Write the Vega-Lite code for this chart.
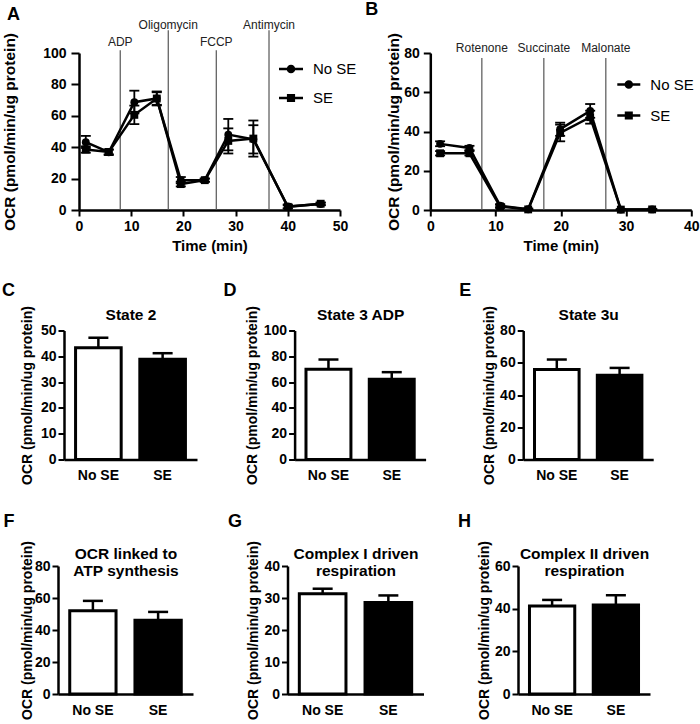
{
"$schema": "https://vega.github.io/schema/vega-lite/v6.json",
"background": "white",
"padding": {"left": 1, "top": 1, "right": 0, "bottom": 0},
"config": {
 "font": "Liberation Sans",
 "view": {"stroke": null},
 "axis": {"grid": false, "domainColor": "black", "domainWidth": 2.5, "tickColor": "black", "tickWidth": 2, "labelColor": "black", "labelFont": "Liberation Sans", "labelFontWeight": "bold", "labelFontSize": 14, "titleFont": "Liberation Sans", "titleFontWeight": "bold", "titleColor": "black", "labelFlush": false, "labelOverlap": false, "labelBound": false, "tickCount": 20},
 "title": {"font": "Liberation Sans", "fontWeight": "bold", "color": "black", "fontSize": 18, "anchor": "start", "frame": "bounds"}
},
"datasets": {
 "timeA": [
  {"time": 1.3, "group": "No SE", "ocr": 43.2, "lo": 39.5, "hi": 47.2},
  {"time": 5.7, "group": "No SE", "ocr": 36.8, "lo": 35.0, "hi": 38.5},
  {"time": 10.6, "group": "No SE", "ocr": 68.7, "lo": 61.5, "hi": 76.0},
  {"time": 14.9, "group": "No SE", "ocr": 71.0, "lo": 66.6, "hi": 75.5},
  {"time": 19.5, "group": "No SE", "ocr": 19.0, "lo": 17.0, "hi": 21.0},
  {"time": 24.1, "group": "No SE", "ocr": 19.0, "lo": 18.0, "hi": 20.0},
  {"time": 28.6, "group": "No SE", "ocr": 48.0, "lo": 38.0, "hi": 58.0},
  {"time": 33.4, "group": "No SE", "ocr": 45.0, "lo": 36.0, "hi": 54.0},
  {"time": 40.0, "group": "No SE", "ocr": 2.2, "lo": 1.0, "hi": 3.5},
  {"time": 46.3, "group": "No SE", "ocr": 3.8, "lo": 3.0, "hi": 4.6},
  {"time": 1.3, "group": "SE", "ocr": 38.5, "lo": 36.5, "hi": 40.5},
  {"time": 5.7, "group": "SE", "ocr": 37.0, "lo": 35.5, "hi": 38.5},
  {"time": 10.6, "group": "SE", "ocr": 60.6, "lo": 54.7, "hi": 66.5},
  {"time": 14.9, "group": "SE", "ocr": 71.0, "lo": 67.0, "hi": 75.0},
  {"time": 19.5, "group": "SE", "ocr": 16.5, "lo": 15.0, "hi": 18.0},
  {"time": 24.1, "group": "SE", "ocr": 19.0, "lo": 18.0, "hi": 20.0},
  {"time": 28.6, "group": "SE", "ocr": 44.0, "lo": 36.0, "hi": 52.0},
  {"time": 33.4, "group": "SE", "ocr": 45.5, "lo": 34.0, "hi": 57.0},
  {"time": 40.0, "group": "SE", "ocr": 2.0, "lo": 1.0, "hi": 3.0},
  {"time": 46.3, "group": "SE", "ocr": 4.0, "lo": 3.2, "hi": 4.8}
 ],
 "timeB": [
  {"time": 1.5, "group": "No SE", "ocr": 33.7, "lo": 32.5, "hi": 35.0},
  {"time": 6.0, "group": "No SE", "ocr": 31.6, "lo": 30.5, "hi": 32.7},
  {"time": 10.7, "group": "No SE", "ocr": 2.2, "lo": 1.5, "hi": 3.0},
  {"time": 15.0, "group": "No SE", "ocr": 0.4, "lo": 0.0, "hi": 0.8},
  {"time": 19.9, "group": "No SE", "ocr": 41.2, "lo": 37.8, "hi": 44.5},
  {"time": 24.5, "group": "No SE", "ocr": 50.5, "lo": 47.0, "hi": 54.0},
  {"time": 29.2, "group": "No SE", "ocr": 0.2, "lo": 0.0, "hi": 0.4},
  {"time": 34.0, "group": "No SE", "ocr": 0.3, "lo": 0.0, "hi": 0.6},
  {"time": 1.5, "group": "SE", "ocr": 28.9, "lo": 27.8, "hi": 30.0},
  {"time": 6.0, "group": "SE", "ocr": 28.9, "lo": 27.8, "hi": 30.0},
  {"time": 10.7, "group": "SE", "ocr": 1.8, "lo": 1.0, "hi": 2.6},
  {"time": 15.0, "group": "SE", "ocr": 0.3, "lo": 0.0, "hi": 0.6},
  {"time": 19.9, "group": "SE", "ocr": 39.3, "lo": 35.0, "hi": 43.5},
  {"time": 24.5, "group": "SE", "ocr": 47.3, "lo": 44.0, "hi": 50.6},
  {"time": 29.2, "group": "SE", "ocr": 0.2, "lo": 0.0, "hi": 0.4},
  {"time": 34.0, "group": "SE", "ocr": 0.3, "lo": 0.0, "hi": 0.6}
 ],
 "injA": [
  {"time": 7.9, "label": "ADP"},
  {"time": 17.1, "label": "Oligomycin"},
  {"time": 26.3, "label": "FCCP"},
  {"time": 36.4, "label": "Antimycin"}
 ],
 "injB": [
  {"time": 7.9, "label": "Rotenone"},
  {"time": 17.4, "label": "Succinate"},
  {"time": 26.9, "label": "Malonate"}
 ],
 "bars": [
  {"panel": "C", "group": "No SE", "value": 43.3, "hi": 47.2},
  {"panel": "C", "group": "SE", "value": 38.9, "hi": 41.2},
  {"panel": "D", "group": "No SE", "value": 70.0, "hi": 77.5},
  {"panel": "D", "group": "SE", "value": 62.3, "hi": 67.7},
  {"panel": "E", "group": "No SE", "value": 55.8, "hi": 62.0},
  {"panel": "E", "group": "SE", "value": 52.2, "hi": 56.8},
  {"panel": "F", "group": "No SE", "value": 52.0, "hi": 58.2},
  {"panel": "F", "group": "SE", "value": 46.1, "hi": 51.3},
  {"panel": "G", "group": "No SE", "value": 31.3, "hi": 32.9},
  {"panel": "G", "group": "SE", "value": 28.6, "hi": 30.8},
  {"panel": "H", "group": "No SE", "value": 41.3, "hi": 44.1},
  {"panel": "H", "group": "SE", "value": 41.7, "hi": 46.3}
 ],
 "empty": []
},
"spacing": 28.5,
"vconcat": [
 {
  "hconcat": [
   {"width": 31, "height": 1, "data": {"name": "empty"}, "mark": {"type": "point"}},
   {
    "hconcat": [
     {
      "title": {"text": "A", "dx": 5, "offset": -5},
      "width": 261, "height": 157,
      "resolve": {"scale": {"shape": "independent"}, "legend": {"shape": "independent"}},
      "layer": [
       {"data": {"name": "injA"}, "transform": [{"filter": {"field": "label", "oneOf": ["ADP", "FCCP"]}}],
        "mark": {"type": "rule", "color": "#555", "strokeWidth": 1.2},
        "encoding": {"x": {"field": "time", "type": "quantitative", "scale": {"domain": [0, 50]}}, "y": {"datum": 101.8, "type": "quantitative", "scale": {"domain": [0, 100]}}, "y2": {"datum": 0}}},
       {"data": {"name": "injA"}, "transform": [{"filter": {"field": "label", "oneOf": ["Oligomycin", "Antimycin"]}}],
        "mark": {"type": "rule", "color": "#555", "strokeWidth": 1.2},
        "encoding": {"x": {"field": "time", "type": "quantitative", "scale": {"domain": [0, 50]}}, "y": {"datum": 114.5, "type": "quantitative", "scale": {"domain": [0, 100]}}, "y2": {"datum": 0}}},
       {"data": {"name": "injA"}, "transform": [{"filter": {"field": "label", "oneOf": ["ADP", "FCCP"]}}],
        "mark": {"type": "text", "fontSize": 12, "color": "#222", "baseline": "alphabetic", "dy": -4},
        "encoding": {"x": {"field": "time", "type": "quantitative", "scale": {"domain": [0, 50]}}, "y": {"datum": 101.8, "type": "quantitative", "scale": {"domain": [0, 100]}}, "text": {"field": "label"}}},
       {"data": {"name": "injA"}, "transform": [{"filter": {"field": "label", "oneOf": ["Oligomycin", "Antimycin"]}}],
        "mark": {"type": "text", "fontSize": 12, "color": "#222", "baseline": "alphabetic", "dy": -1.5},
        "encoding": {"x": {"field": "time", "type": "quantitative", "scale": {"domain": [0, 50]}}, "y": {"datum": 114.5, "type": "quantitative", "scale": {"domain": [0, 100]}}, "text": {"field": "label"}}},
       {"data": {"name": "timeA"}, "mark": {"type": "rule", "color": "black", "strokeWidth": 1.8},
        "encoding": {"x": {"field": "time", "type": "quantitative", "scale": {"domain": [0, 50]}}, "y": {"field": "lo", "type": "quantitative", "scale": {"domain": [0, 100]}}, "y2": {"field": "hi"}}},
       {"data": {"name": "timeA"}, "mark": {"type": "tick", "orient": "horizontal", "size": 10, "thickness": 1.8, "color": "black", "opacity": 1},
        "encoding": {"x": {"field": "time", "type": "quantitative", "scale": {"domain": [0, 50]}}, "y": {"field": "lo", "type": "quantitative", "scale": {"domain": [0, 100]}}}},
       {"data": {"name": "timeA"}, "mark": {"type": "tick", "orient": "horizontal", "size": 10, "thickness": 1.8, "color": "black", "opacity": 1},
        "encoding": {"x": {"field": "time", "type": "quantitative", "scale": {"domain": [0, 50]}}, "y": {"field": "hi", "type": "quantitative", "scale": {"domain": [0, 100]}}}},
       {"data": {"name": "timeA"}, "mark": {"type": "line", "color": "black", "strokeWidth": 2.5},
        "encoding": {"x": {"field": "time", "type": "quantitative", "scale": {"domain": [0, 50]}}, "y": {"field": "ocr", "type": "quantitative", "scale": {"domain": [0, 100]}}, "detail": {"field": "group"}}},
       {"data": {"name": "timeA"}, "mark": {"type": "point", "filled": true, "color": "black", "size": 62, "opacity": 1},
        "encoding": {
         "x": {"field": "time", "type": "quantitative", "scale": {"domain": [0, 50]}, "axis": {"title": "Time (min)", "values": [0, 10, 20, 30, 40, 50], "tickCount": 20, "tickSize": 6, "labelPadding": 3, "labelOverlap": false, "titleFontSize": 15, "titlePadding": 5}},
         "y": {"field": "ocr", "type": "quantitative", "scale": {"domain": [0, 100]}, "axis": {"title": "OCR (pmol/min/ug protein)", "values": [0, 20, 40, 60, 80, 100], "tickCount": 20, "tickSize": 8, "labelPadding": 5, "labelOverlap": false, "minExtent": 36, "maxExtent": 36, "titlePadding": 26, "titleFontSize": 15.5}},
         "shape": {"field": "group", "type": "nominal", "scale": {"domain": ["No SE", "SE"], "range": ["circle", "square"]}, "legend": null}
        }},
       {"data": {"name": "timeA"}, "mark": {"type": "point", "filled": true, "color": "black", "size": 10, "opacity": 0},
        "encoding": {
         "x": {"field": "time", "type": "quantitative", "scale": {"domain": [0, 50]}},
         "y": {"field": "ocr", "type": "quantitative", "scale": {"domain": [0, 100]}},
         "shape": {"field": "group", "type": "nominal", "scale": {"domain": ["No SE", "SE"], "range": ["M-1,-0.1H1V0.1H-1ZM0.36,0C0.36,0.1988,0.1988,0.36,0,0.36C-0.1988,0.36,-0.36,0.1988,-0.36,0C-0.36,-0.1988,-0.1988,-0.36,0,-0.36C0.1988,-0.36,0.36,-0.1988,0.36,0Z", "M-1,-0.1H1V0.1H-1ZM-0.34,-0.34H0.34V0.34H-0.34Z"]},
          "legend": {"orient": "none", "legendX": 200, "legendY": 4, "title": null, "padding": 0, "labelFontSize": 15, "labelFont": "Liberation Sans", "labelColor": "black", "labelOffset": 10, "rowPadding": 9, "symbolSize": 576, "symbolOpacity": 1, "symbolFillColor": "black", "symbolStrokeWidth": 0}}
        }}
      ]
     },
     {
      "title": {"text": "B", "dx": -21, "offset": 13},
      "width": 261, "height": 157,
      "resolve": {"scale": {"shape": "independent"}, "legend": {"shape": "independent"}},
      "layer": [
       {"data": {"name": "injB"},
        "mark": {"type": "rule", "color": "#555", "strokeWidth": 1.2},
        "encoding": {"x": {"field": "time", "type": "quantitative", "scale": {"domain": [0, 40]}}, "y": {"datum": 77.4, "type": "quantitative", "scale": {"domain": [0, 80]}}, "y2": {"datum": 0}}},
       {"data": {"name": "injB"},
        "mark": {"type": "text", "fontSize": 12, "color": "#222", "baseline": "alphabetic", "dy": -6},
        "encoding": {"x": {"field": "time", "type": "quantitative", "scale": {"domain": [0, 40]}}, "y": {"datum": 77.4, "type": "quantitative", "scale": {"domain": [0, 80]}}, "text": {"field": "label"}}},
       {"data": {"name": "timeB"}, "mark": {"type": "rule", "color": "black", "strokeWidth": 1.8},
        "encoding": {"x": {"field": "time", "type": "quantitative", "scale": {"domain": [0, 40]}}, "y": {"field": "lo", "type": "quantitative", "scale": {"domain": [0, 80]}}, "y2": {"field": "hi"}}},
       {"data": {"name": "timeB"}, "mark": {"type": "tick", "orient": "horizontal", "size": 10, "thickness": 1.8, "color": "black", "opacity": 1},
        "encoding": {"x": {"field": "time", "type": "quantitative", "scale": {"domain": [0, 40]}}, "y": {"field": "lo", "type": "quantitative", "scale": {"domain": [0, 80]}}}},
       {"data": {"name": "timeB"}, "mark": {"type": "tick", "orient": "horizontal", "size": 10, "thickness": 1.8, "color": "black", "opacity": 1},
        "encoding": {"x": {"field": "time", "type": "quantitative", "scale": {"domain": [0, 40]}}, "y": {"field": "hi", "type": "quantitative", "scale": {"domain": [0, 80]}}}},
       {"data": {"name": "timeB"}, "mark": {"type": "line", "color": "black", "strokeWidth": 2.5},
        "encoding": {"x": {"field": "time", "type": "quantitative", "scale": {"domain": [0, 40]}}, "y": {"field": "ocr", "type": "quantitative", "scale": {"domain": [0, 80]}}, "detail": {"field": "group"}}},
       {"data": {"name": "timeB"}, "mark": {"type": "point", "filled": true, "color": "black", "size": 62, "opacity": 1},
        "encoding": {
         "x": {"field": "time", "type": "quantitative", "scale": {"domain": [0, 40]}, "axis": {"title": "Time (min)", "values": [0, 10, 20, 30, 40], "tickCount": 20, "tickSize": 6, "labelPadding": 3, "labelOverlap": false, "titleFontSize": 15, "titlePadding": 5}},
         "y": {"field": "ocr", "type": "quantitative", "scale": {"domain": [0, 80]}, "axis": {"title": "OCR (pmol/min/ug protein)", "values": [0, 20, 40, 60, 80], "tickCount": 20, "tickSize": 7, "labelPadding": 4, "labelOverlap": false, "minExtent": 28, "maxExtent": 28, "titlePadding": 1, "titleFontSize": 15.5}},
         "shape": {"field": "group", "type": "nominal", "scale": {"domain": ["No SE", "SE"], "range": ["circle", "square"]}, "legend": null}
        }},
       {"data": {"name": "timeB"}, "mark": {"type": "point", "filled": true, "color": "black", "size": 10, "opacity": 0},
        "encoding": {
         "x": {"field": "time", "type": "quantitative", "scale": {"domain": [0, 40]}},
         "y": {"field": "ocr", "type": "quantitative", "scale": {"domain": [0, 80]}},
         "shape": {"field": "group", "type": "nominal", "scale": {"domain": ["No SE", "SE"], "range": ["M-1,-0.1H1V0.1H-1ZM0.37,0C0.37,0.2043,0.2043,0.37,0,0.37C-0.2043,0.37,-0.37,0.2043,-0.37,0C-0.37,-0.2043,-0.2043,-0.37,0,-0.37C0.2043,-0.37,0.37,-0.2043,0.37,0Z", "M-1,-0.1H1V0.1H-1ZM-0.35,-0.35H0.35V0.35H-0.35Z"]},
          "legend": {"orient": "none", "legendX": 187, "legendY": 20, "title": null, "padding": 0, "labelFontSize": 15, "labelFont": "Liberation Sans", "labelColor": "black", "labelOffset": 10, "rowPadding": 11, "symbolSize": 529, "symbolOpacity": 1, "symbolFillColor": "black", "symbolStrokeWidth": 0}}
        }}
      ]
     }
    ],
    "spacing": 90.3,
    "bounds": "flush",
    "resolve": {"scale": {"x": "independent", "y": "independent", "shape": "independent"}, "legend": {"shape": "independent"}}
   }
  ],
  "spacing": 0,
  "bounds": "flush"
 },
 {
  "hconcat": [
   {"width": 16, "height": 1, "data": {"name": "empty"}, "mark": {"type": "point"}},
   {
    "hconcat": [
     {
      "title": {"text": "C", "dx": -18, "offset": 5.5},
      "width": 133, "height": 129,
      "data": {"name": "bars"},
      "transform": [{"filter": "datum.panel === 'C'"}],
      "layer": [
       {"mark": {"type": "bar", "stroke": "black", "strokeWidth": 3},
        "encoding": {
         "x": {"field": "group", "type": "nominal", "scale": {"paddingInner": 0.29, "paddingOuter": 0.18}, "axis": {"title": null, "labelAngle": 0, "ticks": false, "domain": true, "labelPadding": 9}},
         "y": {"field": "value", "type": "quantitative", "scale": {"domain": [0, 50]}, "axis": {"title": "OCR (pmol/min/ug protein)", "values": [0, 10, 20, 30, 40, 50], "tickCount": 20, "tickSize": 6, "labelPadding": 2, "labelOverlap": false, "minExtent": 22, "maxExtent": 22, "titlePadding": 8, "titleFontSize": 14}},
         "fill": {"field": "group", "type": "nominal", "scale": {"domain": ["No SE", "SE"], "range": ["white", "black"]}, "legend": null}}},
       {"mark": {"type": "rule", "color": "black", "strokeWidth": 2.5},
        "encoding": {
         "x": {"field": "group", "type": "nominal", "axis": {"orient": "top", "title": "State 2", "labels": false, "ticks": false, "domain": false, "minExtent": 0, "maxExtent": 0, "titlePadding": 8.5, "titleFontSize": 15.5}},
         "y": {"field": "value", "type": "quantitative", "scale": {"domain": [0, 50]}}, "y2": {"field": "hi"}}},
       {"mark": {"type": "tick", "orient": "horizontal", "size": 20, "thickness": 2.5, "color": "black", "opacity": 1},
        "encoding": {"x": {"field": "group", "type": "nominal", "axis": null}, "y": {"field": "hi", "type": "quantitative", "scale": {"domain": [0, 50]}}}}
      ],
      "resolve": {"axis": {"x": "independent"}}
     },
     {
      "title": {"text": "D", "dx": -22, "offset": 5.5},
      "width": 131, "height": 129,
      "data": {"name": "bars"},
      "transform": [{"filter": "datum.panel === 'D'"}],
      "layer": [
       {"mark": {"type": "bar", "stroke": "black", "strokeWidth": 3},
        "encoding": {
         "x": {"field": "group", "type": "nominal", "scale": {"paddingInner": 0.29, "paddingOuter": 0.18}, "axis": {"title": null, "labelAngle": 0, "ticks": false, "domain": true, "labelPadding": 9}},
         "y": {"field": "value", "type": "quantitative", "scale": {"domain": [0, 100]}, "axis": {"title": "OCR (pmol/min/ug protein)", "values": [0, 20, 40, 60, 80, 100], "tickCount": 20, "tickSize": 6, "labelPadding": 2, "labelOverlap": false, "minExtent": 31, "maxExtent": 31, "titlePadding": 4, "titleFontSize": 14}},
         "fill": {"field": "group", "type": "nominal", "scale": {"domain": ["No SE", "SE"], "range": ["white", "black"]}, "legend": null}}},
       {"mark": {"type": "rule", "color": "black", "strokeWidth": 2.5},
        "encoding": {
         "x": {"field": "group", "type": "nominal", "axis": {"orient": "top", "title": "State 3 ADP", "labels": false, "ticks": false, "domain": false, "minExtent": 0, "maxExtent": 0, "titlePadding": 8.5, "titleFontSize": 15.5}},
         "y": {"field": "value", "type": "quantitative", "scale": {"domain": [0, 100]}}, "y2": {"field": "hi"}}},
       {"mark": {"type": "tick", "orient": "horizontal", "size": 20, "thickness": 2.5, "color": "black", "opacity": 1},
        "encoding": {"x": {"field": "group", "type": "nominal", "axis": null}, "y": {"field": "hi", "type": "quantitative", "scale": {"domain": [0, 100]}}}}
      ],
      "resolve": {"axis": {"x": "independent"}}
     },
     {
      "title": {"text": "E", "dx": -23, "offset": 5.5},
      "width": 130, "height": 129,
      "data": {"name": "bars"},
      "transform": [{"filter": "datum.panel === 'E'"}],
      "layer": [
       {"mark": {"type": "bar", "stroke": "black", "strokeWidth": 3},
        "encoding": {
         "x": {"field": "group", "type": "nominal", "scale": {"paddingInner": 0.29, "paddingOuter": 0.18}, "axis": {"title": null, "labelAngle": 0, "ticks": false, "domain": true, "labelPadding": 9}},
         "y": {"field": "value", "type": "quantitative", "scale": {"domain": [0, 80]}, "axis": {"title": "OCR (pmol/min/ug protein)", "values": [0, 20, 40, 60, 80], "tickCount": 20, "tickSize": 6, "labelPadding": 2, "labelOverlap": false, "minExtent": 22, "maxExtent": 22, "titlePadding": 5, "titleFontSize": 14}},
         "fill": {"field": "group", "type": "nominal", "scale": {"domain": ["No SE", "SE"], "range": ["white", "black"]}, "legend": null}}},
       {"mark": {"type": "rule", "color": "black", "strokeWidth": 2.5},
        "encoding": {
         "x": {"field": "group", "type": "nominal", "axis": {"orient": "top", "title": "State 3u", "labels": false, "ticks": false, "domain": false, "minExtent": 0, "maxExtent": 0, "titlePadding": 8.5, "titleFontSize": 15.5}},
         "y": {"field": "value", "type": "quantitative", "scale": {"domain": [0, 80]}}, "y2": {"field": "hi"}}},
       {"mark": {"type": "tick", "orient": "horizontal", "size": 20, "thickness": 2.5, "color": "black", "opacity": 1},
        "encoding": {"x": {"field": "group", "type": "nominal", "axis": null}, "y": {"field": "hi", "type": "quantitative", "scale": {"domain": [0, 80]}}}}
      ],
      "resolve": {"axis": {"x": "independent"}}
     }
    ],
    "spacing": 97.6,
    "bounds": "flush",
    "resolve": {"scale": {"x": "independent", "y": "independent"}}
   }
  ],
  "spacing": 0,
  "bounds": "flush"
 },
 {
  "hconcat": [
   {"width": 10, "height": 1, "data": {"name": "empty"}, "mark": {"type": "point"}},
   {
    "hconcat": [
     {
      "title": {"text": "F", "dx": -16.5, "offset": 9.5},
      "width": 135, "height": 128,
      "data": {"name": "bars"},
      "transform": [{"filter": "datum.panel === 'F'"}],
      "layer": [
       {"mark": {"type": "bar", "stroke": "black", "strokeWidth": 3},
        "encoding": {
         "x": {"field": "group", "type": "nominal", "scale": {"paddingInner": 0.29, "paddingOuter": 0.18}, "axis": {"title": null, "labelAngle": 0, "ticks": false, "domain": true, "labelPadding": 9}},
         "y": {"field": "value", "type": "quantitative", "scale": {"domain": [0, 80]}, "axis": {"title": "OCR (pmol/min/ug protein)", "values": [0, 20, 40, 60, 80], "tickCount": 20, "tickSize": 6, "labelPadding": 2, "labelOverlap": false, "minExtent": 22, "maxExtent": 22, "titlePadding": 2, "titleFontSize": 14}},
         "fill": {"field": "group", "type": "nominal", "scale": {"domain": ["No SE", "SE"], "range": ["white", "black"]}, "legend": null}}},
       {"mark": {"type": "rule", "color": "black", "strokeWidth": 2.5},
        "encoding": {
         "x": {"field": "group", "type": "nominal", "axis": {"orient": "top", "title": ["OCR linked to", "ATP synthesis"], "labels": false, "ticks": false, "domain": false, "minExtent": 0, "maxExtent": 0, "titlePadding": -12, "titleFontSize": 15.5, "titleLineHeight": 17}},
         "y": {"field": "value", "type": "quantitative", "scale": {"domain": [0, 80]}}, "y2": {"field": "hi"}}},
       {"mark": {"type": "tick", "orient": "horizontal", "size": 20, "thickness": 2.5, "color": "black", "opacity": 1},
        "encoding": {"x": {"field": "group", "type": "nominal", "axis": null}, "y": {"field": "hi", "type": "quantitative", "scale": {"domain": [0, 80]}}}}
      ],
      "resolve": {"axis": {"x": "independent"}}
     },
     {
      "title": {"text": "G", "dx": -18.5, "offset": 9.5},
      "width": 136, "height": 128,
      "data": {"name": "bars"},
      "transform": [{"filter": "datum.panel === 'G'"}],
      "layer": [
       {"mark": {"type": "bar", "stroke": "black", "strokeWidth": 3},
        "encoding": {
         "x": {"field": "group", "type": "nominal", "scale": {"paddingInner": 0.29, "paddingOuter": 0.18}, "axis": {"title": null, "labelAngle": 0, "ticks": false, "domain": true, "labelPadding": 9}},
         "y": {"field": "value", "type": "quantitative", "scale": {"domain": [0, 40]}, "axis": {"title": "OCR (pmol/min/ug protein)", "values": [0, 10, 20, 30, 40], "tickCount": 20, "tickSize": 6, "labelPadding": 2, "labelOverlap": false, "minExtent": 22, "maxExtent": 22, "titlePadding": 5, "titleFontSize": 14}},
         "fill": {"field": "group", "type": "nominal", "scale": {"domain": ["No SE", "SE"], "range": ["white", "black"]}, "legend": null}}},
       {"mark": {"type": "rule", "color": "black", "strokeWidth": 2.5},
        "encoding": {
         "x": {"field": "group", "type": "nominal", "axis": {"orient": "top", "title": ["Complex I driven", "respiration"], "labels": false, "ticks": false, "domain": false, "minExtent": 0, "maxExtent": 0, "titlePadding": -12, "titleFontSize": 15.5, "titleLineHeight": 17}},
         "y": {"field": "value", "type": "quantitative", "scale": {"domain": [0, 40]}}, "y2": {"field": "hi"}}},
       {"mark": {"type": "tick", "orient": "horizontal", "size": 20, "thickness": 2.5, "color": "black", "opacity": 1},
        "encoding": {"x": {"field": "group", "type": "nominal", "axis": null}, "y": {"field": "hi", "type": "quantitative", "scale": {"domain": [0, 40]}}}}
      ],
      "resolve": {"axis": {"x": "independent"}}
     },
     {
      "title": {"text": "H", "dx": -19, "offset": 9.5},
      "width": 132, "height": 128,
      "data": {"name": "bars"},
      "transform": [{"filter": "datum.panel === 'H'"}],
      "layer": [
       {"mark": {"type": "bar", "stroke": "black", "strokeWidth": 3},
        "encoding": {
         "x": {"field": "group", "type": "nominal", "scale": {"paddingInner": 0.29, "paddingOuter": 0.18}, "axis": {"title": null, "labelAngle": 0, "ticks": false, "domain": true, "labelPadding": 9}},
         "y": {"field": "value", "type": "quantitative", "scale": {"domain": [0, 60]}, "axis": {"title": "OCR (pmol/min/ug protein)", "values": [0, 20, 40, 60], "tickCount": 20, "tickSize": 6, "labelPadding": 2, "labelOverlap": false, "minExtent": 22, "maxExtent": 22, "titlePadding": 5, "titleFontSize": 14}},
         "fill": {"field": "group", "type": "nominal", "scale": {"domain": ["No SE", "SE"], "range": ["white", "black"]}, "legend": null}}},
       {"mark": {"type": "rule", "color": "black", "strokeWidth": 2.5},
        "encoding": {
         "x": {"field": "group", "type": "nominal", "axis": {"orient": "top", "title": ["Complex II driven", "respiration"], "labels": false, "ticks": false, "domain": false, "minExtent": 0, "maxExtent": 0, "titlePadding": -12, "titleFontSize": 15.5, "titleLineHeight": 17}},
         "y": {"field": "value", "type": "quantitative", "scale": {"domain": [0, 60]}}, "y2": {"field": "hi"}}},
       {"mark": {"type": "tick", "orient": "horizontal", "size": 20, "thickness": 2.5, "color": "black", "opacity": 1},
        "encoding": {"x": {"field": "group", "type": "nominal", "axis": null}, "y": {"field": "hi", "type": "quantitative", "scale": {"domain": [0, 60]}}}}
      ],
      "resolve": {"axis": {"x": "independent"}}
     }
    ],
    "spacing": 94.5,
    "bounds": "flush",
    "resolve": {"scale": {"x": "independent", "y": "independent"}}
   }
  ],
  "spacing": 0,
  "bounds": "flush"
 }
]
}
